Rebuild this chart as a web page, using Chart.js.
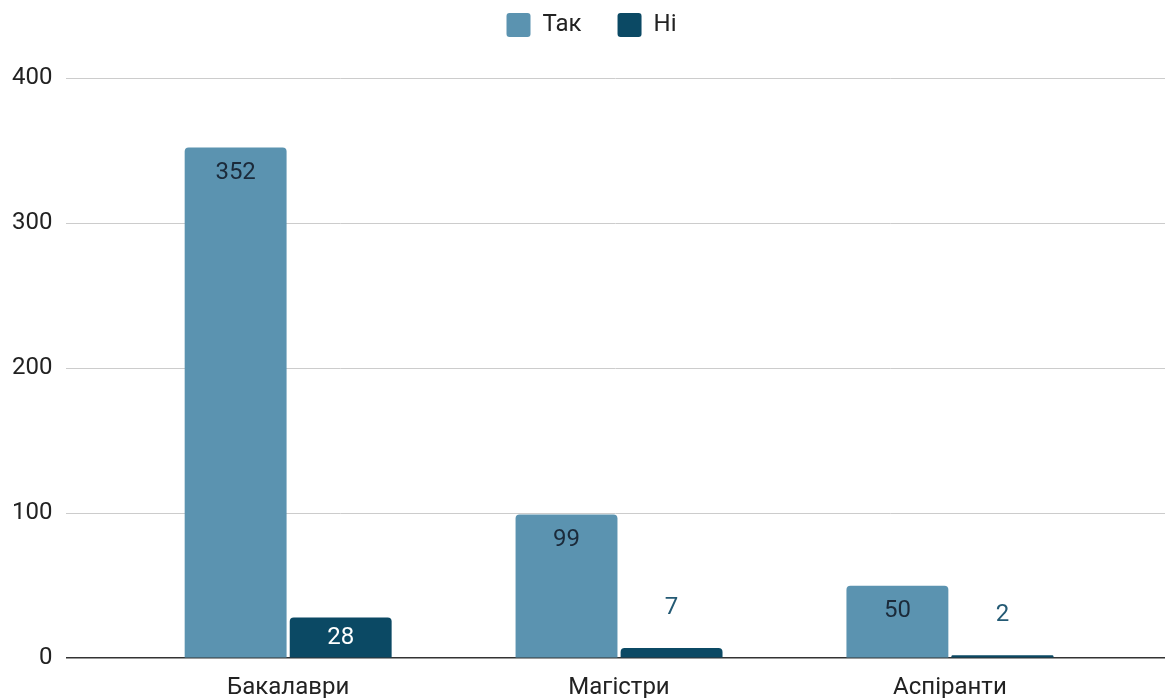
<!DOCTYPE html>
<html>
<head>
<meta charset="utf-8">
<script src="https://cdn.jsdelivr.net/npm/chart.js@4.4.1/dist/chart.umd.min.js"></script>
<style>
  body { margin: 0; background: #fff; }
  #wrap { width: 1167px; height: 698px; }
</style>
</head>
<body>
<div id="wrap"><canvas id="chart" width="1167" height="698"></canvas></div>
<script>
const categories = ['Бакалаври', 'Магістри', 'Аспіранти'];
const yesValues = [352, 99, 50];
const noValues = [28, 7, 2];
const seriesNames = ['Так', 'Ні'];
const yTicks = [0, 100, 200, 300, 400];

const lightBlue = '#5b93b0';
const darkBlue = '#0b4964';

// legend needs some extra room under it, and sits a bit right of center
const legendSpace = {
    id: 'legendSpace',
    beforeInit(chart) {
        const fit = chart.legend.fit;
        chart.legend.fit = function() {
            fit.bind(chart.legend)();
            this.height += 31;
        };
    },
    afterLayout(chart) {
        chart.legend.left += 10;
        chart.legend.right += 10;
    }
};

// value labels, inside the bar top or above it when the bar is short
const valueLabels = {
    id: 'valueLabels',
    afterDatasetsDraw(chart) {
        const ctx = chart.ctx;
        ctx.save();
        ctx.font = '24px Roboto';
        ctx.textAlign = 'center';
        ctx.textBaseline = 'middle';
        chart.data.datasets.forEach((ds, di) => {
            const meta = chart.getDatasetMeta(di);
            meta.data.forEach((bar, i) => {
                const v = ds.data[i].y;
                const h = bar.base - bar.y;
                let y, color;
                if (h > 25) {
                    y = Math.min(bar.y + 25, (bar.y + bar.base) / 2);
                    color = di === 0 ? '#1b2a3a' : '#ffffff';
                } else {
                    y = bar.y - 40;
                    color = '#245a74';
                }
                ctx.fillStyle = color;
                ctx.fillText(String(v), bar.x, y);
            });
        });
        ctx.restore();
    }
};

const toPoints = arr => arr.map((v, i) => ({ x: i, y: v }));

new Chart(document.getElementById('chart'), {
    type: 'bar',
    data: {
        datasets: [
            {
                label: seriesNames[0],
                data: toPoints(yesValues),
                backgroundColor: lightBlue,
                borderRadius: { topLeft: 4, topRight: 4 },
                borderSkipped: 'start'
            },
            {
                label: seriesNames[1],
                data: toPoints(noValues),
                backgroundColor: darkBlue,
                borderRadius: { topLeft: 4, topRight: 4 },
                borderSkipped: 'start'
            }
        ]
    },
    options: {
        responsive: false,
        animation: false,
        categoryPercentage: 0.635,
        barPercentage: 0.97,
        layout: { padding: { left: -2, right: 2, top: -23, bottom: -19 } },
        plugins: {
            legend: {
                position: 'top',
                labels: {
                    boxWidth: 24,
                    boxHeight: 24,
                    padding: 36,
                    useBorderRadius: true,
                    borderRadius: 3,
                    color: '#222',
                    font: { family: 'Roboto', size: 24 }
                }
            },
            tooltip: { enabled: false }
        },
        scales: {
            x: {
                type: 'linear',
                offset: false,
                min: -0.67,
                max: 2.65,
                grid: { display: false, drawTicks: false },
                border: { display: false },
                ticks: {
                    stepSize: 1,
                    includeBounds: false,
                    maxRotation: 0,
                    padding: 15,
                    color: '#222',
                    font: { family: 'Roboto', size: 24 },
                    callback: v => categories[v] ?? ''
                }
            },
            y: {
                min: 0,
                max: 400,
                afterBuildTicks: axis => { axis.ticks = yTicks.map(v => ({ value: v })); },
                grid: {
                    drawTicks: false,
                    color: c => c.tick && c.tick.value === 0 ? '#333333' : '#cccccc',
                    lineWidth: c => c.tick && c.tick.value === 0 ? 1.5 : 1
                },
                border: { display: false },
                ticks: {
                    padding: 14,
                    color: '#222',
                    font: { family: 'Roboto', size: 24 }
                }
            }
        }
    },
    plugins: [legendSpace, valueLabels]
});
</script>
</body>
</html>
